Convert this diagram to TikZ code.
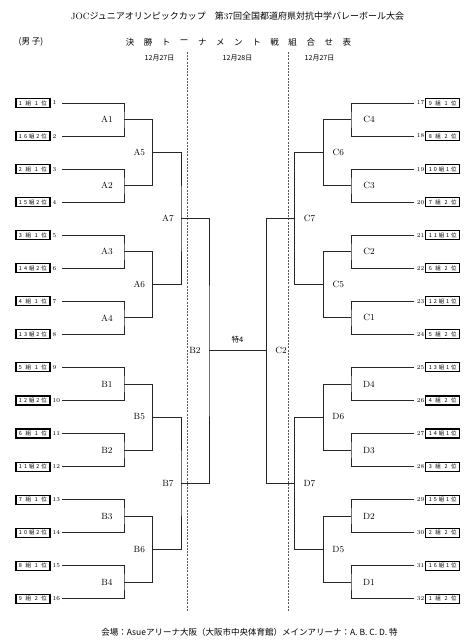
\documentclass[tikz,border=0pt]{standalone}
\usepackage{fontspec}
\newfontfamily\jp{Noto Sans CJK JP}
\usetikzlibrary{calc}
\tikzset{
  bline/.style={line width=0.8pt, draw=black!85},
  teambox/.style={draw, line width=1.1pt, minimum width=34pt, minimum height=9pt, inner sep=0pt, font=\jp\fontsize{5.5}{6}\selectfont},
  numlbl/.style={inner sep=0pt, font=\fontsize{6}{7}\selectfont},
  mlbl/.style={inner sep=0pt, font=\fontsize{9}{10}\selectfont},
  seprule/.style={draw=black!65, dash pattern=on 2pt off 1.2pt, line width=0.5pt},
  headtxt/.style={inner sep=0pt},
}
\begin{document}
\begin{tikzpicture}[x=1pt,y=-1pt]
\useasboundingbox (0,0) rectangle (474,643);

% header
\node[headtxt, font=\fontsize{9}{10}\selectfont] (title) at (237.5,16) {JOC{\jp ジュニアオリンピックカップ　第}37{\jp 回全国都道府県対抗中学バレーボール大会}};
\node[headtxt, font=\jp\fontsize{8.5}{10}\selectfont] (sex) at (31,42) {(男 子)};
\foreach \c [count=\k] in {決,勝,ト,ー,ナ,メ,ン,ト,戦,組,合,せ,表}{
  \node[headtxt, font=\jp\fontsize{8.5}{10}\selectfont] (st\k) at ({130+(\k-1)*18.08},42) {\c};
}
\node[headtxt, font=\jp\fontsize{7}{8}\selectfont] (d1) at (159.5,58) {12月27日};
\node[headtxt, font=\jp\fontsize{7}{8}\selectfont] (d2) at (237.5,58) {12月28日};
\node[headtxt, font=\jp\fontsize{7}{8}\selectfont] (d3) at (319.5,58) {12月27日};

% separators
\coordinate (s1t) at (187,52); \coordinate (s1b) at (187,611);
\coordinate (s2t) at (288.5,52); \coordinate (s2b) at (288.5,611);
\draw[seprule] (s1t) -- (s1b);
\draw[seprule] (s2t) -- (s2b);

% left teams
\foreach \i/\t in {1/1 組 1 位,2/1 6 組 2 位,3/2 組 1 位,4/1 5 組 2 位,5/3 組 1 位,6/1 4 組 2 位,7/4 組 1 位,8/1 3 組 2 位,9/5 組 1 位,10/1 2 組 2 位,11/6 組 1 位,12/1 1 組 2 位,13/7 組 1 位,14/1 0 組 2 位,15/8 組 1 位,16/9 組 2 位}{
  \pgfmathsetmacro\yy{103+(\i-1)*33.05}
  \node[teambox] (tb\i) at (33,\yy) {\makebox[28pt][s]{\t}};
  \node[numlbl, anchor=west] (tn\i) at (52.5,\yy) {\i};
  \coordinate (e\i) at (62,\yy);
}
% right teams
\foreach \i/\t in {17/9 組 1 位,18/8 組 2 位,19/1 0 組 1 位,20/7 組 2 位,21/1 1 組 1 位,22/6 組 2 位,23/1 2 組 1 位,24/5 組 2 位,25/1 3 組 1 位,26/4 組 2 位,27/1 4 組 1 位,28/3 組 2 位,29/1 5 組 1 位,30/2 組 2 位,31/1 6 組 1 位,32/1 組 2 位}{
  \pgfmathsetmacro\yy{103+(\i-17)*33.05}
  \node[teambox] (tb\i) at (442.75,\yy) {\makebox[28pt][s]{\t}};
  \node[numlbl, anchor=east] (tn\i) at (424.5,\yy) {\i};
  \coordinate (e\i) at (414,\yy);
}

% left round 1
\foreach \n [count=\k] in {A1,A2,A3,A4,B1,B2,B3,B4}{
  \pgfmathtruncatemacro\i{2*\k-1}
  \pgfmathtruncatemacro\j{2*\k}
  \coordinate (a\k) at (124,{103+(2*\k-1.5)*33.05});
  \draw[bline] (e\i) -| (a\k) |- (e\j);
  \node[mlbl] (la\k) at ([xshift=-17pt]a\k) {\n};
}
% right round 1
\foreach \n [count=\k] in {C4,C3,C2,C1,D4,D3,D2,D1}{
  \pgfmathtruncatemacro\i{16+2*\k-1}
  \pgfmathtruncatemacro\j{16+2*\k}
  \coordinate (ra\k) at (351,{103+(2*\k-1.5)*33.05});
  \draw[bline] (e\i) -| (ra\k) |- (e\j);
  \node[mlbl] (lra\k) at ([xshift=18pt]ra\k) {\n};
}
% round 2
\foreach \n/\m [count=\k] in {A5/C6,A6/C5,B5/D6,B6/D5}{
  \pgfmathtruncatemacro\i{2*\k-1}
  \pgfmathtruncatemacro\j{2*\k}
  \coordinate (b\k) at (152.3,{103+(4*\k-2.5)*33.05});
  \coordinate (rb\k) at (323.3,{103+(4*\k-2.5)*33.05});
  \draw[bline] (a\i) -| (b\k) |- (a\j);
  \draw[bline] (ra\i) -| (rb\k) |- (ra\j);
  \node[mlbl] (lb\k) at ([xshift=-13pt]b\k) {\n};
  \node[mlbl] (lrb\k) at ([xshift=15pt]rb\k) {\m};
}
% round 3
\foreach \n/\m [count=\k] in {A7/C7,B7/D7}{
  \pgfmathtruncatemacro\i{2*\k-1}
  \pgfmathtruncatemacro\j{2*\k}
  \coordinate (c\k) at (181,{103+(8*\k-4.5)*33.05});
  \coordinate (rc\k) at (294.5,{103+(8*\k-4.5)*33.05});
  \draw[bline] (b\i) -| (c\k) |- (b\j);
  \draw[bline] (rb\i) -| (rc\k) |- (rb\j);
  \node[mlbl] (lc\k) at ([xshift=-13pt]c\k) {\n};
  \node[mlbl] (lrc\k) at ([xshift=15pt]rc\k) {\m};
}
% final
\coordinate (fl) at (209,{103+7.5*33.05});
\coordinate (fr) at (266.7,{103+7.5*33.05});
\draw[bline] (c1) -| (fl) |- (c2);
\draw[bline] (rc1) -| (fr) |- (rc2);
\draw[bline] (fl) -- (fr);
\node[mlbl] (lfl) at ([xshift=-14pt]fl) {B2};
\node[mlbl] (lfr) at ([xshift=14.3pt]fr) {C2};
\node[headtxt, font=\jp\fontsize{7.5}{8}\selectfont] (sp4) at (237.5,340) {特4};

% footer
\node[headtxt, font=\jp\fontsize{8.5}{9}\selectfont] (venue) at (249.5,632) {会場：Asueアリーナ大阪（大阪市中央体育館）メインアリーナ：A. B. C. D. 特};
\end{tikzpicture}
\end{document}
